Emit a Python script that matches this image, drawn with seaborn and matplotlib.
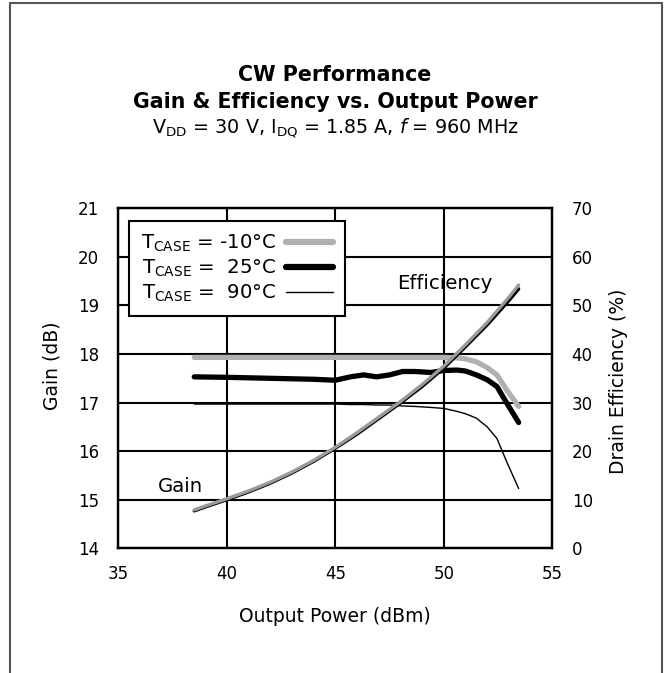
import matplotlib
matplotlib.use("Agg")
import matplotlib.pyplot as plt
import seaborn as sns
from matplotlib.lines import Line2D

# ---------------- data ----------------
gain_pout = [38.5, 40, 42, 44, 45, 45.7, 46.3, 46.9, 47.5, 48.1, 48.7, 49.4,
             50.0, 50.6, 51.0, 51.5, 52.0, 52.45, 52.9, 53.45]
gain_m10 = [17.93, 17.93, 17.93, 17.93, 17.93, 17.93, 17.93, 17.93, 17.93, 17.93,
            17.93, 17.93, 17.93, 17.92, 17.90, 17.84, 17.72, 17.57, 17.26, 16.92]
gain_25 = [17.53, 17.52, 17.50, 17.48, 17.46, 17.53, 17.57, 17.53, 17.57, 17.64,
           17.64, 17.62, 17.66, 17.67, 17.65, 17.57, 17.47, 17.33, 16.99, 16.59]
gain_90 = [16.97, 16.97, 16.97, 16.97, 16.97, 16.96, 16.96, 16.95, 16.95, 16.93,
           16.92, 16.90, 16.88, 16.82, 16.77, 16.68, 16.50, 16.26, 15.78, 15.23]

eff_pout = [38.5, 39, 40, 41, 42, 43, 44, 45, 46, 47, 48, 49, 50, 51, 52, 53, 53.45]
eff_m10 = [7.9, 8.7, 10.2, 11.8, 13.6, 15.7, 18.1, 20.8, 23.8, 27.0, 30.2, 33.7,
           37.5, 41.9, 46.5, 51.7, 54.2]
eff_25 = [7.7, 8.5, 10.0, 11.6, 13.4, 15.5, 17.9, 20.6, 23.5, 26.7, 29.9, 33.3,
          37.1, 41.5, 46.0, 51.0, 53.4]
eff_90 = [7.8, 8.6, 10.1, 11.7, 13.5, 15.6, 18.0, 20.7, 23.6, 26.8, 30.0, 33.5,
          37.3, 41.7, 46.2, 51.3, 53.8]

legend_labels = [r"T$_{\mathrm{CASE}}$ = -10°C",
                 r"T$_{\mathrm{CASE}}$ =  25°C",
                 r"T$_{\mathrm{CASE}}$ =  90°C"]
x_ticks = [35, 40, 45, 50, 55]
gain_ticks = [14, 15, 16, 17, 18, 19, 20, 21]
eff_ticks = [0, 10, 20, 30, 40, 50, 60, 70]

GRAY = "#b0b0b0"

# ---------------- style ----------------
sns.set_theme(style="white")
plt.rcParams["font.family"] = ["DejaVu Sans"]
plt.rcParams["mathtext.fontset"] = "dejavusans"
plt.rcParams["text.color"] = "black"
plt.rcParams["axes.labelcolor"] = "black"
plt.rcParams["legend.labelcolor"] = "black"

W, H = 665, 673
fig = plt.figure(figsize=(W / 100, H / 100), dpi=100)
fig.patch.set_facecolor("white")

ax = fig.add_axes([118.3 / W, 1 - 548.3 / H, 434 / W, 340 / H])
ax2 = ax.twinx()

# gain lines
sns.lineplot(x=gain_pout, y=gain_90, ax=ax, color="black", linewidth=1.0, legend=False)
sns.lineplot(x=gain_pout, y=gain_m10, ax=ax, color=GRAY, linewidth=3.8, legend=False)
sns.lineplot(x=gain_pout, y=gain_25, ax=ax, color="black", linewidth=3.8, legend=False)

# efficiency lines
sns.lineplot(x=eff_pout, y=eff_25, ax=ax2, color="black", linewidth=2.4, legend=False)
sns.lineplot(x=eff_pout, y=eff_90, ax=ax2, color="black", linewidth=1.0, legend=False)
sns.lineplot(x=eff_pout, y=eff_m10, ax=ax2, color="#9a9a9a", linewidth=2.4, legend=False)

ax.set_xlim(35, 55)
ax.set_ylim(14, 21)
ax2.set_ylim(0, 70)
ax.set_xticks(x_ticks)
ax.set_yticks(gain_ticks)
ax2.set_yticks(eff_ticks)
ax.set_xticklabels([str(v) for v in x_ticks])
ax.set_yticklabels([str(v) for v in gain_ticks])
ax2.set_yticklabels([str(v) for v in eff_ticks])

ax.grid(True, color="black", linewidth=1.5)
ax.set_axisbelow(True)
ax2.grid(False)
for a in (ax, ax2):
    for s in a.spines.values():
        s.set_color("black")
        s.set_linewidth(1.6)
ax.tick_params(axis="y", length=0, pad=14, labelsize=12, colors="black")
ax.tick_params(axis="x", length=0, pad=12, labelsize=12, colors="black")
ax2.tick_params(axis="y", length=0, pad=14, labelsize=12, colors="black")
ax.set_xlabel("")
ax.set_ylabel("")
ax2.set_ylabel("")

# annotations
ax.text(50.06, 19.46, "Efficiency", ha="center", va="center", fontsize=14.2, color="black")
ax.text(37.85, 15.28, "Gain", ha="center", va="center", fontsize=14.2, color="black")

# legend
handles = [Line2D([], [], color=GRAY, linewidth=4.5),
           Line2D([], [], color="black", linewidth=4.5),
           Line2D([], [], color="black", linewidth=1.0)]
leg = ax2.legend(handles, legend_labels, loc="upper left",
                 bbox_to_anchor=(0.0253, 0.9635), borderaxespad=0,
                 markerfirst=False, frameon=True, fancybox=False,
                 edgecolor="black", framealpha=1, fontsize=14.2,
                 handlelength=2.35, handletextpad=0.5, labelspacing=0.2,
                 borderpad=0.6)
leg.get_frame().set_linewidth(1.5)
for t in leg.get_texts():
    t.set_color("black")

# titles and axis labels
fig.text(335 / W, 1 - 81 / H, "CW Performance", ha="center", va="baseline",
         fontsize=14.8, fontweight="bold", color="black")
fig.text(335 / W, 1 - 108 / H, "Gain & Efficiency vs. Output Power", ha="center",
         va="baseline", fontsize=14.8, fontweight="bold", color="black")
fig.text(335 / W, 1 - 133 / H,
         r"V$_{\mathrm{DD}}$ = 30 V, I$_{\mathrm{DQ}}$ = 1.85 A, $f$ = 960 MHz",
         ha="center", va="baseline", fontsize=13.8, color="black")
fig.text(335 / W, 1 - 622 / H, "Output Power (dBm)", ha="center", va="baseline",
         fontsize=13.5, color="black")
fig.text(51.7 / W, 1 - 366 / H, "Gain (dB)", ha="center", va="center",
         rotation=90, fontsize=13.5, color="black")
fig.text(618 / W, 1 - 381.7 / H, "Drain Efficiency (%)", ha="center", va="center",
         rotation=90, fontsize=13.5, color="black")

# outer frame (open at the bottom)
bc = "#555555"
fig.add_artist(Line2D([10 / W, 10 / W], [0, 1 - 2.5 / H], color=bc, linewidth=1.5,
                      transform=fig.transFigure))
fig.add_artist(Line2D([662 / W, 662 / W], [0, 1 - 2.5 / H], color=bc, linewidth=1.5,
                      transform=fig.transFigure))
fig.add_artist(Line2D([10 / W, 662 / W], [1 - 2.5 / H, 1 - 2.5 / H], color=bc,
                      linewidth=1.5, transform=fig.transFigure))

fig.savefig("out.png", dpi=100)
